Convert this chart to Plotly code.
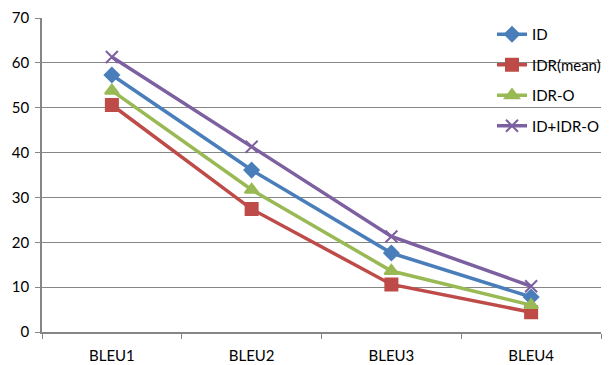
import plotly.graph_objects as go

categories = ["BLEU1", "BLEU2", "BLEU3", "BLEU4"]
series_names = ["ID", "IDR(mean)", "IDR-O", "ID+IDR-O"]
id_vals = [57.3, 36.1, 17.6, 7.8]
idr_mean_vals = [50.6, 27.4, 10.6, 4.4]
idr_o_vals = [53.8, 31.7, 13.6, 6.0]
id_idr_o_vals = [61.3, 41.3, 21.3, 10.2]
y_ticks = [0, 10, 20, 30, 40, 50, 60, 70]

colors = ["#4A7EBB", "#BE4B48", "#98B954", "#7D60A0"]
symbols = ["diamond", "square", "triangle-up", "x-thin"]
sizes = [11, 12, 12, 12]
values = [id_vals, idr_mean_vals, idr_o_vals, id_idr_o_vals]

fig = go.Figure()
for name, vals, c, s, sz in zip(series_names, values, colors, symbols, sizes):
    fig.add_trace(go.Scatter(
        x=categories, y=vals, name=name, mode="lines+markers",
        legendgroup=name,
        line=dict(color=c, width=3.5),
        marker=dict(symbol=s, size=sz, color=c, line=dict(color=c, width=2)),
    ))

font = "Lato, 'Open Sans', sans-serif"
fig.update_layout(
    width=603, height=357,
    margin=dict(l=34, r=5, t=10, b=33),
    plot_bgcolor="white", paper_bgcolor="white",
    font=dict(family=font, size=15, color="black"),
    showlegend=True,
    legend=dict(x=0.805, y=1.0, xanchor="left", yanchor="top",
                bgcolor="rgba(0,0,0,0)", font=dict(size=15),
                tracegroupgap=8, itemwidth=30),
    xaxis=dict(type="category", showgrid=False, showline=True,
               linecolor="#868686", linewidth=1.5, ticks="outside",
               tickson="boundaries", ticklen=5, tickcolor="#868686",
               range=[-0.5, 3.5], ticklabelstandoff=9, automargin=False),
    yaxis=dict(range=[0, 70], tickvals=y_ticks, showgrid=True,
               gridcolor="#868686", gridwidth=1.2, showline=True,
               linecolor="#868686", linewidth=1.5, ticks="outside",
               ticklen=5, tickcolor="#868686", zeroline=False,
               ticklabelstandoff=3, automargin=False),
)
fig.write_html("out.html")
